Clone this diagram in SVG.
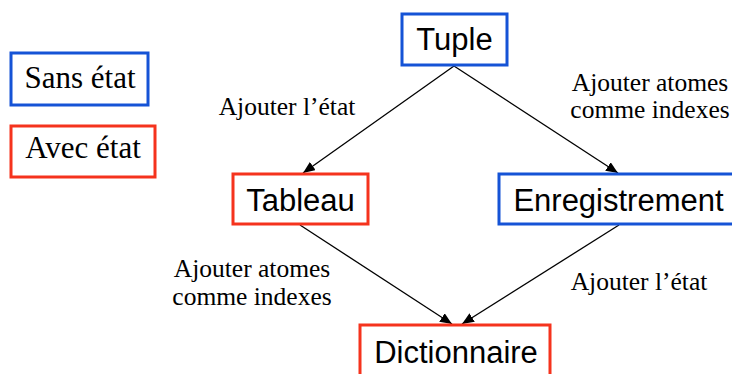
<svg xmlns="http://www.w3.org/2000/svg" width="732" height="374" viewBox="0 0 732 374">
<style>
.box{fill:#fff;stroke-width:3}
.blue{stroke:#1553d6}
.red{stroke:#f5331d}
.sans{font-family:"Liberation Sans",Arial,sans-serif;font-size:31px;fill:#000;text-anchor:middle}
.serif{font-family:"Liberation Serif","Times New Roman",serif;font-size:31px;fill:#000;text-anchor:middle}
.lbl{font-family:"Liberation Serif","Times New Roman",serif;font-size:25.5px;fill:#000;text-anchor:middle}
.edge{stroke:#000;stroke-width:1.3;fill:none;marker-end:url(#ah)}
</style>
<defs>
<marker id="ah" viewBox="0 0 12 10" refX="12" refY="5" markerWidth="12" markerHeight="10" markerUnits="userSpaceOnUse" orient="auto">
<path d="M0,0 L12,5 L0,10 Z" fill="#000"/>
</marker>
</defs>
<rect width="732" height="374" fill="#fff"/>
<g id="connectors">
<line class="edge" x1="454" y1="66" x2="303" y2="173"/>
<line class="edge" x1="454" y1="66" x2="618" y2="173"/>
<line class="edge" x1="300" y1="225" x2="452" y2="324"/>
<line class="edge" x1="619" y1="225" x2="462" y2="324"/>
<text class="lbl" x="287" y="115">Ajouter l’état</text>
<text class="lbl" x="650" y="91">Ajouter atomes</text>
<text class="lbl" x="650" y="118">comme indexes</text>
<text class="lbl" x="252" y="277">Ajouter atomes</text>
<text class="lbl" x="252" y="305">comme indexes</text>
<text class="lbl" x="639" y="290">Ajouter l’état</text>
</g>
<g id="legend-sans">
<rect class="box blue" x="11" y="53" width="137" height="52"/>
<text class="serif" x="80" y="88">Sans état</text>
</g>
<g id="legend-avec">
<rect class="box red" x="11" y="126" width="144" height="51"/>
<text class="serif" x="83" y="158">Avec état</text>
</g>
<g id="tuple">
<rect class="box blue" x="402" y="14" width="105" height="51"/>
<text class="sans" x="454.5" y="50">Tuple</text>
</g>
<g id="tableau">
<rect class="box red" x="233" y="174" width="135" height="50"/>
<text class="sans" x="300.5" y="211">Tableau</text>
</g>
<g id="enregistrement">
<rect class="box blue" x="499" y="174" width="240" height="50"/>
<text class="sans" x="618.5" y="211">Enregistrement</text>
</g>
<g id="dictionnaire">
<rect class="box red" x="360" y="325" width="190" height="60"/>
<text class="sans" x="456" y="363">Dictionnaire</text>
</g>
</svg>
